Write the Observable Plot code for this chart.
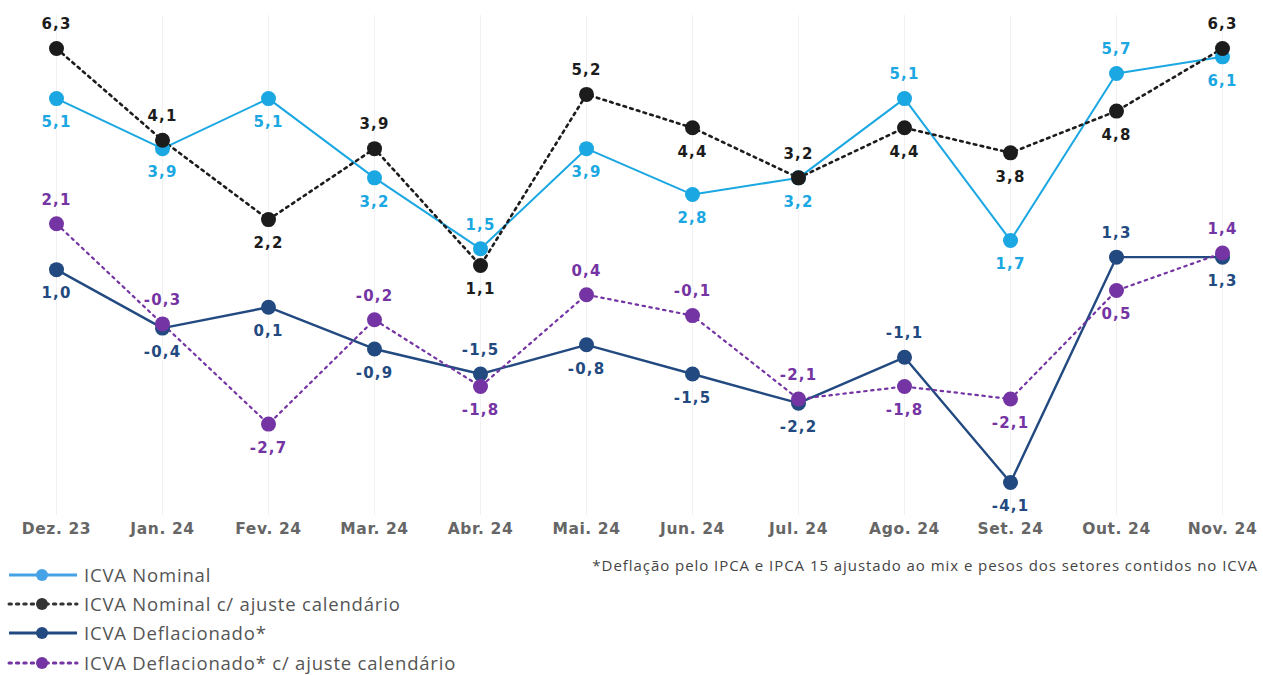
<!DOCTYPE html>
<html>
<head>
<meta charset="utf-8">
<script src="https://cdn.jsdelivr.net/npm/d3@7"></script>
<script src="https://cdn.jsdelivr.net/npm/@observablehq/plot@0.6"></script>
<style>
  body { margin: 0; background: #fff; }
  #wrap { position: relative; width: 1263px; height: 675px; overflow: hidden; }
  #chart svg { display: block; }
  #chart g[aria-label="text"] text { letter-spacing: 1.2px; }
  #chart g[aria-label="x-axis tick label"] text { letter-spacing: 0.6px; }
  #note { position: absolute; right: 5px; top: 555px; font-family: "Open Sans", sans-serif; font-size: 15px; letter-spacing: 0.95px; color: #444; white-space: nowrap; }
  #legend { position: absolute; left: 7px; top: 560px; font-family: "Open Sans", sans-serif; font-size: 18.5px; letter-spacing: 0.8px; color: #555; }
  .item { display: flex; align-items: center; height: 29.4px; white-space: nowrap; line-height: 1.1; }
  .item svg { margin-right: 5px; }
</style>
</head>
<body>
<div id="wrap">
  <div id="chart"></div>
  <div id="note">*Deflação pelo IPCA e IPCA 15 ajustado ao mix e pesos dos setores contidos no ICVA</div>
  <div id="legend"></div>
</div>
<script>
const months = ["Dez. 23","Jan. 24","Fev. 24","Mar. 24","Abr. 24","Mai. 24","Jun. 24","Jul. 24","Ago. 24","Set. 24","Out. 24","Nov. 24"];
const nominal = [5.1,3.9,5.1,3.2,1.5,3.9,2.8,3.2,5.1,1.7,5.7,6.1];
const nominalAjuste = [6.3,4.1,2.2,3.9,1.1,5.2,4.4,3.2,4.4,3.8,4.8,6.3];
const deflacionado = [1.0,-0.4,0.1,-0.9,-1.5,-0.8,-1.5,-2.2,-1.1,-4.1,1.3,1.3];
const deflacionadoAjuste = [2.1,-0.3,-2.7,-0.2,-1.8,0.4,-0.1,-2.1,-1.8,-2.1,0.5,1.4];
const seriesNames = ["ICVA Nominal","ICVA Nominal c/ ajuste calendário","ICVA Deflacionado*","ICVA Deflacionado* c/ ajuste calendário"];

// label side per point: a = above, b = below
const sideNominal = ["b","b","b","b","a","b","b","b","a","b","a","b"];
const sideNominalAjuste = ["a","a","b","a","b","a","b","a","b","b","b","a"];
const sideDeflacionado = ["b","b","b","b","a","b","b","b","a","b","a","b"];
const sideDeflacionadoAjuste = ["a","a","b","a","b","a","a","a","b","b","b","a"];

const styles = [
  {color: "#1aa7e2", label: "#1aa7e2", width: 2, dash: null, legend: "#46a2e6"},
  {color: "#1c1c1c", label: "#1c1c1c", width: 2.6, dash: "2.6,4.4", legend: "#333"},
  {color: "#234a80", label: "#234a80", width: 2.4, dash: null, legend: "#234a80"},
  {color: "#7434a3", label: "#7434a3", width: 2.2, dash: "2.4,4.6", legend: "#7434a3"}
];
const values = [nominal, nominalAjuste, deflacionado, deflacionadoAjuste];
const sides = [sideNominal, sideNominalAjuste, sideDeflacionado, sideDeflacionadoAjuste];

const fmt = v => v.toFixed(1).replace(".", ",");
const tables = values.map((arr, s) => arr.map((v, i) => ({month: months[i], value: v, side: sides[s][i], series: seriesNames[s]})));

const marks = [
  Plot.ruleX(months, {x: d => d, stroke: "#f1f1f1", strokeWidth: 1, insetTop: -33, insetBottom: -33}),
  Plot.ruleY([0], {x1: months[0], x2: months[months.length - 1], stroke: "#c6c6c6", strokeWidth: 2})
];
const drawOrder = [2, 3, 0, 1];
for (const s of drawOrder) {
  marks.push(Plot.line(tables[s], {x: "month", y: "value", stroke: styles[s].color, strokeWidth: styles[s].width,
    strokeDasharray: styles[s].dash || undefined, strokeLinecap: styles[s].dash ? "round" : "butt"}));
}
for (const s of drawOrder) {
  marks.push(Plot.dot(tables[s], {x: "month", y: "value", r: 7.5, fill: styles[s].color, stroke: "none"}));
}
for (const s of drawOrder) {
  const st = styles[s];
  const common = {x: "month", y: "value", text: d => fmt(d.value), fill: st.label, fontSize: 15, fontWeight: "bold",
    fontFamily: "DejaVu Sans, sans-serif", stroke: "white", strokeWidth: 3, strokeOpacity: 0.6, paintOrder: "stroke"};
  marks.push(Plot.text(tables[s].filter(d => d.side === "a"), {...common, dy: -24}));
  marks.push(Plot.text(tables[s].filter(d => d.side === "b"), {...common, dy: 24}));
}
marks.push(Plot.axisX({tickSize: 0, tickPadding: 40, fontSize: 15.5, fontWeight: "bold", fontFamily: "DejaVu Sans, sans-serif", fill: "#666", label: null}));

const chart = Plot.plot({
  width: 1263,
  height: 555,
  marginTop: 48,
  marginBottom: 73,
  marginLeft: 56,
  marginRight: 41,
  x: {type: "point", domain: months, padding: 0, axis: null},
  y: {domain: [-4.1, 6.3], axis: null},
  style: {background: "white", overflow: "visible"},
  marks
});
document.getElementById("chart").append(chart);

const legend = document.getElementById("legend");
seriesNames.forEach((name, s) => {
  const st = styles[s];
  const row = document.createElement("div");
  row.className = "item";
  const dash = st.dash ? `stroke-dasharray="2.4,5" stroke-linecap="round"` : "";
  row.innerHTML = `<svg width="72" height="14"><line x1="2" x2="70" y1="7" y2="7" stroke="${st.legend}" stroke-width="3" ${dash}/><circle cx="35" cy="7" r="6" fill="${st.legend}"/></svg><span>${name}</span>`;
  legend.append(row);
});
</script>
</body>
</html>
